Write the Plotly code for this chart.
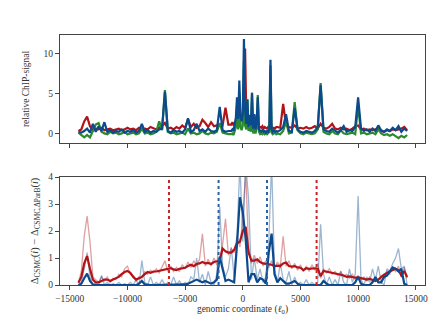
import numpy as np
import plotly.graph_objects as go
from plotly.subplots import make_subplots

# genomic positions for the ChIP tracks (finer spacing around the origin)
chip_pos = np.concatenate([np.arange(-14250, -1000, 250),
                           np.arange(-1000, 3000, 100),
                           np.arange(3000, 14251, 250)])

chip_red = [
    0.3, 0.5, 1.5, 2.1, 0.9, 0.4, 0.6, 0.5, 0.7, 0.4,
    0.5, 0.6, 0.4, 0.5, 0.6, 0.4, 0.5, 0.7, 0.5, 0.6,
    0.4, 0.7, 0.5, 0.6, 0.5, 0.8, 0.6, 0.5, 0.7, 0.9,
    1.3, 0.6, 0.7, 0.5, 0.8, 0.6, 1.0, 0.7, 1.8, 0.8,
    1.2, 0.7, 0.9, 1.7, 1.3, 0.8, 1.4, 0.9, 1.0, 1.1,
    1.0, 3.2, 1.1,
    1.1, 1.4, 1.0, 1.3, 1.2, 2.0, 1.5, 2.6, 2.0, 1.8,
    2.2, 6.0, 10.6, 2.5, 2.0, 1.6, 2.3, 1.4, 1.8, 1.2,
    2.3, 1.0, 1.1, 1.5, 0.9, 0.8, 0.7, 0.9, 0.6, 0.8,
    0.7, 0.6, 0.8, 0.7, 1.5, 0.8, 0.6, 0.7, 0.6, 0.8,
    0.8, 0.7, 3.7, 1.0, 0.8, 0.7, 1.0, 0.6, 0.7, 0.6,
    0.8, 0.6, 0.7, 0.9, 0.6, 1.2, 0.7, 0.6, 0.8, 1.2,
    0.6, 0.5, 0.7, 0.5, 0.6, 0.4, 0.6, 0.9, 1.0, 0.5,
    0.6, 0.4, 0.5, 0.4, 0.5, 0.6, 0.3, 0.2, 0.4, 0.3,
    0.5, 0.4, 0.5, 0.6, 0.8, 0.4,
]

chip_green = [
    0.1, -0.2, -0.5, -0.2, -0.5, 0.3, 1.1, 1.3, 0.2, 0.0,
    -0.1, 0.2, 0.0, 0.1, -0.1, 0.0, 0.2, -0.1, 0.0, 0.1,
    -0.1, 0.0, 0.6, 0.0, 0.1, -0.1, 0.0, 0.2, 1.5, 0.4,
    5.4, 0.2, 0.0, 0.1, -0.1, 0.0, 0.1, -0.1, 0.6, 0.0,
    0.1, -0.1, 0.0, 0.3, 0.0, -0.1, 0.1, 0.0, 0.2, 1.3,
    0.1, 0.0, -0.1,
    -0.1, 0.0, -0.2, 0.3, 0.8, 3.5, 0.5, 5.0, 0.8, 0.4,
    1.0, 9.0, 1.0, 0.5, 4.3, 0.3, 0.8, 0.2, 5.1, 0.0,
    0.5, 0.0, 0.6, 4.8, 0.2, -0.1, 0.0, -0.1, 0.1, -0.1,
    0.0, -0.1, 0.1, 0.2, 8.5, 0.1, -0.1, 0.0, 0.1, -0.1,
    0.0, -0.1, 0.3, 1.5, 0.0, 0.1, 3.9, 0.4, 0.0, -0.1,
    0.1, 0.0, -0.1, 0.0, 0.5, 6.3, 0.2, 0.0, -0.1, 0.3,
    0.0, -0.1, 0.4, 0.0, -0.1, 0.0, 0.1, -0.1, 3.5, 0.0,
    0.1, -0.1, 0.0, 0.1, -0.1, 0.5, 0.0, -0.2, -0.1, -0.3,
    -0.1, -0.4, -0.6, -0.3, -0.5, -0.2,
]

chip_blue = [
    0.2, 0.1, 0.3, 0.6, 0.1, 1.2, 0.2, 0.9, 0.3, 1.4,
    0.2, 0.4, 0.1, 0.3, 0.2, 0.5, 0.1, 0.3, 0.2, 0.4,
    0.1, 0.3, 1.2, 0.2, 0.4, 0.1, 0.3, 0.2, 0.5, 0.6,
    5.2, 0.3, 0.1, 0.4, 0.2, 0.3, 0.1, 0.5, 1.9, 0.2,
    0.4, 1.2, 0.3, 0.5, 0.2, 0.6, 0.3, 0.2, 0.4, 3.3,
    0.4, 0.2, 0.3,
    0.3, 0.5, 0.3, 1.2, 2.0, 4.5, 1.8, 6.6, 2.2, 1.5,
    2.5, 11.8, 3.0, 1.2, 4.2, 0.8, 2.2, 1.0, 5.0, 0.6,
    2.4, 0.5, 1.3, 4.5, 0.6, 0.3, 0.2, 0.4, 0.2, 0.3,
    0.1, 0.3, 0.2, 0.6, 9.2, 0.5, 0.2, 0.4, 0.2, 0.3,
    0.2, 0.4, 0.8, 2.4, 0.3, 0.2, 3.2, 0.5, 0.2, 0.1,
    0.3, 0.2, 0.1, 0.3, 0.8, 6.0, 0.5, 0.3, 0.2, 0.6,
    0.3, 0.1, 0.4, 0.9, 0.2, 0.4, 0.3, 0.8, 4.5, 0.6,
    0.3, 0.5, 0.2, 0.6, 0.3, 1.0, 0.4, 0.2, 0.5, 0.3,
    0.7, 0.4, 0.9, 0.2, 0.6, 0.3,
]

# difference tracks (lower panel)
diff_pos = np.arange(-14250, 14251, 250)

diff_red_raw = [
    0.1, 0.5, 1.8, 2.55, 1.6, 0.3, 0.2, 0.1, 0.3, 0.15,
    0.3, 0.1, 0.25, 0.2, 0.4, 0.3, 0.6, 0.7, 0.4, 0.35,
    0.15, 0.3, 0.25, 0.5, 0.4, 0.55, 0.45, 0.6, 0.45, 0.65,
    0.9, 0.5, 0.7, 0.5, 0.65, 0.5, 0.75, 0.6, 0.85, 0.65,
    0.9, 0.7, 0.95, 1.9, 0.7, 0.95, 0.7, 1.0, 0.75, 1.0,
    1.5, 2.45, 1.1, 1.35, 1.2, 1.8, 1.4, 2.5, 4.2, 1.4,
    0.8, 1.1, 0.8, 1.05, 0.7, 0.9, 0.65, 0.9, 0.6, 0.85,
    0.65, 1.8, 0.7, 0.9, 0.6, 0.8, 0.55, 0.75, 0.5, 0.7,
    0.5, 0.75, 0.55, 0.8, 0.25, 0.6, 0.45, 0.6, 0.4, 0.5,
    0.35, 0.5, 0.3, 0.4, 0.25, 0.4, 0.2, 0.35, 0.2, 0.3,
    0.15, 0.3, 0.1, 0.25, 0.15, 0.35, 0.25, 0.5, 0.4, 0.65,
    0.5, 0.7, 0.3, 0.65, 0.25,
]

diff_red_smooth = [
    0.08, 0.3, 0.8, 1.07, 0.6, 0.2, 0.1, 0.1, 0.15, 0.2,
    0.2, 0.15, 0.2, 0.25, 0.3, 0.4, 0.48, 0.52, 0.45, 0.3,
    0.2, 0.25, 0.3, 0.4, 0.48, 0.45, 0.5, 0.5, 0.52, 0.55,
    0.58, 0.6, 0.62, 0.58, 0.55, 0.6, 0.62, 0.64, 0.7, 0.75,
    0.7, 0.78, 0.8, 0.85, 0.8, 0.82, 0.78, 0.85, 0.88, 0.9,
    1.35, 1.25, 1.2, 1.2, 1.3, 1.55, 1.6, 2.0, 2.15, 1.2,
    0.9, 0.9, 0.95, 0.85, 0.8, 0.78, 0.75, 0.75, 0.7, 0.72,
    0.7, 0.8, 0.83, 0.7, 0.68, 0.7, 0.65, 0.64, 0.55, 0.62,
    0.6, 0.62, 0.62, 0.6, 0.33, 0.52, 0.5, 0.48, 0.45, 0.42,
    0.4, 0.38, 0.35, 0.3, 0.32, 0.3, 0.27, 0.28, 0.25, 0.22,
    0.2, 0.23, 0.18, 0.15, 0.2, 0.3, 0.38, 0.45, 0.5, 0.52,
    0.6, 0.55, 0.35, 0.52, 0.3,
]

diff_blue_raw = [
    0.0, 0.1, 0.6, 1.2, 0.3, 0.0, 0.1, 0.0, 0.35, 0.0,
    0.1, 0.0, 0.05, 0.0, 0.1, 0.0, 0.05, 0.0, 0.1, 0.0,
    0.2, 0.0, 0.9, 0.1, 0.0, 0.3, 0.0, 0.1, 0.0, 0.2,
    0.0, 0.1, 0.0, 0.3, 0.0, 0.15, 0.0, 0.1, 0.0, 0.3,
    0.2, 1.0, 0.1, 0.4, 0.0, 0.5, 0.1, 0.0, 0.4, 2.9,
    0.7, 0.3, 0.6, 1.4, 0.3, 1.8, 4.5, 1.6, 4.5, 3.2,
    0.2, 1.0, 0.2, 0.6, 0.1, 0.3, 1.6, 4.5, 0.6, 0.1,
    0.8, 0.2, 0.1, 0.5, 0.0, 0.3, 0.0, 0.1, 0.0, 0.2,
    0.0, 0.1, 0.0, 0.1, 2.25, 0.4, 0.0, 0.3, 0.0, 0.2,
    0.0, 0.5, 0.1, 0.0, 0.6, 0.1, 0.4, 3.3, 0.2, 0.0,
    0.3, 0.1, 0.6, 0.2, 0.7, 0.1, 0.0, 0.6, 0.5, 0.8,
    1.0, 1.35, 0.6, 0.7, 0.0,
]

diff_blue_smooth = [
    0.0, 0.05, 0.25, 0.42, 0.15, 0.02, 0.0, 0.0, 0.02, 0.0,
    0.0, 0.0, 0.0, 0.0, 0.0, 0.0, 0.0, 0.0, 0.0, 0.0,
    0.0, 0.05, 0.15, 0.02, 0.0, 0.0, 0.0, 0.0, 0.0, 0.0,
    0.0, 0.0, 0.0, 0.0, 0.0, 0.0, 0.0, 0.02, 0.05, 0.1,
    0.15, 0.2, 0.15, 0.1, 0.15, 0.1, 0.05, 0.1, 0.2, 1.05,
    0.65, 0.15, 0.2, 0.15, 0.1, 1.5, 3.25, 2.7, 1.7, 0.1,
    0.4, 0.4, 0.1, 0.25, 0.2, 0.05, 1.2, 1.9, 0.4, 0.1,
    0.25, 0.15, 0.05, 0.05, 0.1, 0.15, 0.05, 0.0, 0.0, 0.0,
    0.0, 0.0, 0.0, 0.0, 0.0, 0.15, 0.05, 0.0, 0.0, 0.0,
    0.0, 0.0, 0.0, 0.0, 0.0, 0.0, 0.1, 0.3, 0.05, 0.0,
    0.0, 0.0, 0.1, 0.3, 0.1, 0.1, 0.3, 0.35, 0.5, 0.65,
    0.6, 0.5, 0.6, 0.05, 0.0,
]

red_cutoffs = [-6400, 6400]
blue_cutoffs = [-2100, 2100]

xticks = [-15000, -10000, -5000, 0, 5000, 10000, 15000]
xticklabels = ['−15000', '−10000', '−5000', '0', '5000', '10000', '15000']

RED = '#b01318'
GREEN = '#2a8a2e'
BLUE = '#0b4a8c'
FONT = 'Liberation Serif'

fig = make_subplots(rows=2, cols=1, vertical_spacing=0.136)

fig.add_trace(go.Scatter(x=chip_pos, y=chip_red, line=dict(color=RED, width=2.2)), row=1, col=1)
fig.add_trace(go.Scatter(x=chip_pos, y=chip_green, line=dict(color=GREEN, width=2.2)), row=1, col=1)
fig.add_trace(go.Scatter(x=chip_pos, y=chip_blue, line=dict(color=BLUE, width=2.2)), row=1, col=1)

fig.add_trace(go.Scatter(x=diff_pos, y=diff_red_raw, opacity=0.4,
                         line=dict(color=RED, width=1.3)), row=2, col=1)
fig.add_trace(go.Scatter(x=diff_pos, y=diff_blue_raw, opacity=0.4,
                         line=dict(color=BLUE, width=1.3)), row=2, col=1)
fig.add_trace(go.Scatter(x=diff_pos, y=diff_red_smooth, line=dict(color=RED, width=2.2)), row=2, col=1)
fig.add_trace(go.Scatter(x=diff_pos, y=diff_blue_smooth, line=dict(color=BLUE, width=2.2)), row=2, col=1)

for xv in red_cutoffs:
    fig.add_vline(x=xv, line=dict(color='#c8242a', dash='dot', width=2), row=2, col=1)
for xv in blue_cutoffs:
    fig.add_vline(x=xv, line=dict(color='#2a64a8', dash='dot', width=2), row=2, col=1)

axis_style = dict(showline=True, mirror=True, linecolor='#444', linewidth=1.3,
                  ticks='outside', ticklen=4, tickcolor='#444', showgrid=False,
                  zeroline=False, tickfont=dict(size=9.5, color='#333'))

fig.update_xaxes(range=[-15850, 15800], tickvals=xticks, ticktext=xticklabels, **axis_style)
fig.update_xaxes(showticklabels=False, row=1, col=1)
fig.update_xaxes(title_text='genomic coordinate (<i>ℓ</i><sub>0</sub>)', title_standoff=2,
                 title_font=dict(size=9.5, color='#333'), row=2, col=1)

fig.update_yaxes(**axis_style)
fig.update_yaxes(range=[-1.2, 12.3], tickvals=[0, 5, 10], row=1, col=1,
                 title_text='relative ChIP-signal', title_standoff=12,
                 title_font=dict(size=9.5, color='#333'))
fig.update_yaxes(range=[0, 4], tickvals=[0, 1, 2, 3, 4], row=2, col=1,
                 title_text='Δ<sub>CSMC</sub>(<i>i</i>) − Δ<sub>CSMC,ΔParB</sub>(<i>i</i>)',
                 title_standoff=7, title_font=dict(size=10.5, color='#333'))

fig.update_layout(width=436, height=327, showlegend=False,
                  paper_bgcolor='white', plot_bgcolor='white',
                  font=dict(family=FONT, size=9.5, color='#333'),
                  margin=dict(l=52, r=19, t=27, b=50))
fig.update_traces(mode='lines')

fig.write_html("out.html")
